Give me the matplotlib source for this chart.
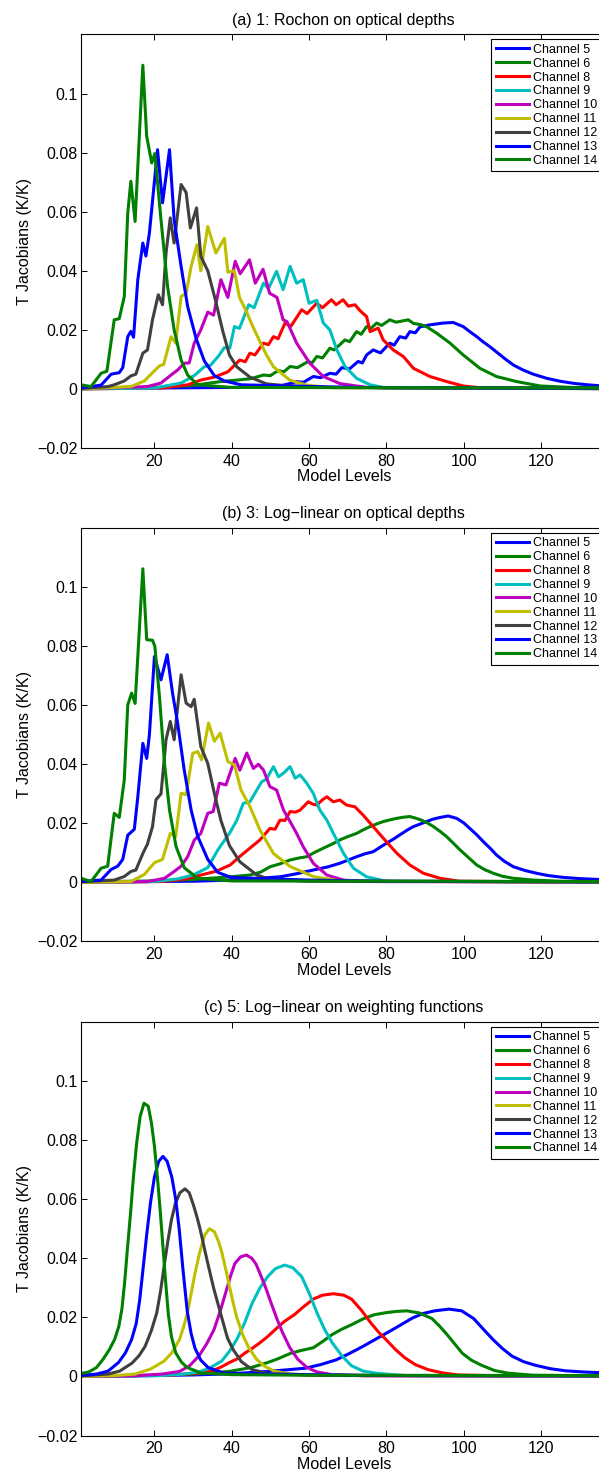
import numpy as np
import matplotlib
matplotlib.use('Agg')
import matplotlib.pyplot as plt

plt.rcParams['font.family'] = ['Liberation Sans', 'DejaVu Sans']

# ── Values: (model level, T Jacobian in K/K) ─────────────────────────────
CHANNELS = [5, 6, 8, 9, 10, 11, 12, 13, 14]
COLORS = ['#0000ff', '#008000', '#ff0000', '#00bfbf', '#bf00bf',
          '#bfbf00', '#404040', '#0000ff', '#008000']
TITLES = ["(a) 1: Rochon on optical depths",
          "(b) 3: Log\u2212linear on optical depths",
          "(c) 5: Log\u2212linear on weighting functions"]

# panel (a)
A_CH5 = [(1, 0.0002), (20, 0.0003), (40, 0.0005), (48, 0.0008), (52.5, 0.001), (55, 0.0018),
         (56.8, 0.0025), (58.5, 0.0022), (61.1, 0.0042), (63, 0.0038), (65.4, 0.0053), (67, 0.0050),
         (68.5, 0.0072), (70.5, 0.0068), (72.7, 0.0093), (73.8, 0.0088), (74.9, 0.0115), (76.6, 0.0132),
         (78.5, 0.0122), (80.9, 0.0155), (82, 0.0148), (83.5, 0.0177), (85, 0.0172), (86.1, 0.0194),
         (87.5, 0.0190), (88.7, 0.021), (91.3, 0.0217), (94.7, 0.0223), (97.3, 0.0225), (99.9, 0.0211),
         (101.5, 0.0195), (103.4, 0.0177), (105, 0.016), (106.8, 0.0143), (109, 0.012), (111.1, 0.0098),
         (113, 0.008), (115.4, 0.0064), (118, 0.005), (121.5, 0.0036), (125, 0.0026), (128.4, 0.0019),
         (132, 0.0014), (137, 0.0009)]
A_CH6 = [(1, 0.0002), (20, 0.0005), (30, 0.0012), (37.2, 0.0025), (41.5, 0.003), (45, 0.0035),
         (48.2, 0.0047), (50, 0.0045), (52, 0.0062), (53.5, 0.0058), (55.1, 0.0076), (57, 0.0072),
         (59.8, 0.0093), (60.8, 0.0088), (62, 0.011), (63.5, 0.0105), (65.4, 0.0138), (66.5, 0.0132),
         (69.3, 0.0166), (70.5, 0.0160), (72.3, 0.0194), (73.5, 0.0185), (74.9, 0.0211), (76, 0.0205),
         (77.5, 0.0223), (78.8, 0.0215), (80.9, 0.0234), (82.5, 0.0226), (85.7, 0.0234), (87, 0.0222),
         (89.1, 0.0217), (90.5, 0.021), (93, 0.0189), (96.5, 0.0155), (99.9, 0.0115), (104.2, 0.007),
         (108.5, 0.0042), (113.7, 0.0025), (119.8, 0.001), (128, 0.0005), (137, 0.0003)]
A_CH8 = [(1, 0.0), (21.7, 0.0003), (28.6, 0.0014), (32, 0.003), (35.5, 0.004), (39, 0.0058),
         (42.1, 0.0098), (43.5, 0.0092), (44.7, 0.0121), (46, 0.0115), (48.2, 0.0155), (49.5, 0.0150),
         (50.8, 0.0177), (52, 0.0170), (53.8, 0.0223), (55.3, 0.0212), (58.1, 0.0268), (59.5, 0.0255),
         (62, 0.029), (63.5, 0.0275), (65.8, 0.0302), (67, 0.0285), (68.8, 0.0302), (70.2, 0.0280),
         (71.9, 0.0285), (73.2, 0.0265), (74.9, 0.0245), (75.8, 0.0194), (77.9, 0.0206), (79.2, 0.0166),
         (81.8, 0.0132), (84.4, 0.011), (87, 0.007), (91.3, 0.0042), (95.6, 0.0025), (99.9, 0.001),
         (105, 0.0003), (137, 0.0001)]
A_CH9 = [(1, 0.0), (20, 0.0003), (26.9, 0.002), (30.3, 0.0045), (32.9, 0.0075), (34.5, 0.008),
         (36.5, 0.011), (38.1, 0.0140), (39.5, 0.0138), (40.7, 0.0211), (42, 0.0205), (44.4, 0.0285),
         (45.8, 0.0275), (48.2, 0.0358), (49.5, 0.034), (51.6, 0.0398), (53.3, 0.0336), (55.1, 0.0415),
         (56.8, 0.0358), (58.5, 0.037), (60, 0.029), (62, 0.030), (63.7, 0.0223), (65.4, 0.02),
         (67.2, 0.0132), (69.3, 0.0076), (72.3, 0.0036), (75.8, 0.0014), (80, 0.0003), (137, 0.0001)]
A_CH10 = [(1, 0.0), (18.2, 0.0008), (21.7, 0.002), (24.3, 0.0047), (26, 0.0064), (27.7, 0.0087),
          (29, 0.0088), (30.3, 0.0155), (32, 0.02), (33.8, 0.026), (35.3, 0.025), (37.2, 0.037),
          (39, 0.031), (40.9, 0.0432), (42.2, 0.039), (44.6, 0.0437), (46.1, 0.0358), (48.1, 0.0405),
          (49.8, 0.0324), (51.7, 0.0310), (53.3, 0.0234), (54.3, 0.0228), (56.8, 0.0155), (60.2, 0.0087),
          (63.7, 0.0042), (68, 0.0018), (75, 0.0005), (137, 0.0001)]
A_CH11 = [(1, 0.0), (13.9, 0.0008), (17.4, 0.0027), (19.5, 0.0055), (21.3, 0.0078), (22.4, 0.0083),
          (24.3, 0.0177), (25.5, 0.0155), (26.9, 0.0313), (28.2, 0.0324), (29.5, 0.0415), (31, 0.0488),
          (32, 0.040), (33.8, 0.055), (35.9, 0.046), (38.1, 0.051), (39, 0.0395), (40.7, 0.040),
          (42, 0.031), (43.7, 0.0265), (45.5, 0.021), (47.3, 0.0160), (49, 0.0115), (50.8, 0.0075),
          (55, 0.003), (59.4, 0.0013), (66, 0.0004), (137, 0.0001)]
A_CH12 = [(1, 0.0002), (8, 0.0008), (9.6, 0.0014), (12.2, 0.0027), (13.9, 0.0044), (15.2, 0.005),
          (17, 0.0121), (18.2, 0.0132), (19.5, 0.0234), (21, 0.0319), (22.1, 0.0285), (23, 0.046),
          (24.1, 0.0579), (25.1, 0.0494), (26.9, 0.0692), (28.2, 0.0665), (29.3, 0.0545), (30.9, 0.0613),
          (32, 0.0449), (33.8, 0.040), (35.8, 0.030), (37.7, 0.0195), (39.4, 0.0115), (41.3, 0.0075),
          (44.7, 0.0040), (49, 0.0017), (55, 0.0010), (65, 0.0005), (137, 0.0002)]
A_CH13 = [(1, 0.0003), (6.2, 0.0013), (8.8, 0.005), (10.9, 0.0055), (11.8, 0.0072), (13.1, 0.0177),
          (13.9, 0.0195), (14.6, 0.0175), (15.7, 0.037), (17, 0.0494), (17.8, 0.045), (18.7, 0.0528),
          (20.8, 0.081), (22.1, 0.063), (23.9, 0.081), (25.1, 0.0573), (26.9, 0.0415), (28.6, 0.0279),
          (30.8, 0.017), (32.9, 0.0095), (35.5, 0.0045), (38.1, 0.0027), (42.4, 0.0014), (55, 0.001),
          (65, 0.0007), (80, 0.0004), (137, 0.0002)]
A_CH14 = [(1, 0.0014), (3.6, 0.0008), (6.2, 0.0053), (7.7, 0.006), (9.6, 0.0234), (10.9, 0.0238),
          (12.2, 0.0313), (13.1, 0.0596), (13.9, 0.0703), (15, 0.0567), (17, 0.1096), (18, 0.0855),
          (19.3, 0.0765), (20.1, 0.0797), (21.7, 0.0573), (23.4, 0.0347), (25.1, 0.02), (26.9, 0.0098),
          (28.6, 0.0047), (31.2, 0.0014), (40, 0.0005), (137, 0.0003)]

# panel (b)
B_CH5 = [(1, 0.0002), (30, 0.0004), (40, 0.0008), (52.5, 0.0019), (57, 0.003), (61.1, 0.0042),
         (65, 0.0053), (68, 0.0065), (70, 0.0075), (72.3, 0.0087), (74.5, 0.0097), (76.6, 0.0104),
         (78.5, 0.012), (80.1, 0.0133), (82, 0.0148), (83.5, 0.0161), (85.5, 0.0178), (87, 0.0189),
         (88.8, 0.0198), (90.4, 0.0206), (92, 0.0214), (93.9, 0.022), (96, 0.0225), (98.2, 0.0217),
         (100, 0.0202), (101.6, 0.0183), (103.5, 0.016), (105.1, 0.0138), (107, 0.0114), (108.5, 0.0093),
         (110.5, 0.0072), (112.9, 0.0053), (116, 0.0040), (118.9, 0.0031), (122, 0.0023), (125.8, 0.0017),
         (130, 0.0013), (135, 0.0010), (137, 0.0009)]
B_CH6 = [(1, 0.0002), (20, 0.0005), (30, 0.001), (39.6, 0.0019), (44.7, 0.0025), (47.5, 0.0035),
         (49.9, 0.0053), (52.5, 0.0063), (55.1, 0.0076), (57.5, 0.0083), (59.4, 0.0087), (61.5, 0.0102),
         (63.7, 0.0116), (66, 0.013), (68, 0.0144), (70, 0.0155), (72.3, 0.0166), (74, 0.0178),
         (75.8, 0.0189), (77.5, 0.0198), (79.2, 0.0206), (81, 0.0212), (82.7, 0.0217), (84.5, 0.0221),
         (86.1, 0.0223), (87.5, 0.0218), (89.1, 0.0211), (90.7, 0.0201), (92.2, 0.0189), (94, 0.0172),
         (95.6, 0.0155), (97.4, 0.0132), (99.1, 0.011), (101.2, 0.0085), (103.4, 0.0059), (105.5, 0.0043),
         (107.7, 0.0031), (110, 0.0021), (112.9, 0.0014), (118, 0.0008), (125, 0.0004), (137, 0.0002)]
B_CH8 = [(1, 0.0), (22, 0.0003), (28, 0.0012), (32, 0.0025), (36, 0.0038), (39.6, 0.0059),
         (42.1, 0.0088), (44.7, 0.0116), (47.3, 0.0144), (49.9, 0.0183), (51.2, 0.0180), (52.5, 0.0211),
         (53.8, 0.021), (55.1, 0.024), (56.5, 0.0238), (57.7, 0.0245), (59.8, 0.0273), (61, 0.0265),
         (62, 0.0262), (63.5, 0.028), (64.6, 0.029), (66.3, 0.0273), (68, 0.0279), (69.7, 0.0262),
         (71.9, 0.0256), (74, 0.0228), (76.6, 0.0189), (79.2, 0.015), (82.7, 0.0099), (86.1, 0.0059),
         (89.6, 0.0031), (93.9, 0.0014), (99, 0.0004), (137, 0.0001)]
B_CH9 = [(1, 0.0), (20, 0.0003), (26, 0.0012), (30, 0.0025), (33.8, 0.005), (36.4, 0.011),
         (38, 0.014), (39.6, 0.017), (41.3, 0.021), (43, 0.0268), (44.7, 0.0273), (46.5, 0.0313),
         (47.7, 0.034), (49, 0.035), (50.8, 0.0392), (52.1, 0.0358), (53.4, 0.037), (55.1, 0.0392),
         (56.4, 0.0353), (57.7, 0.0364), (59.4, 0.0336), (61.1, 0.0302), (62.8, 0.0245), (64.6, 0.0211),
         (66.3, 0.0166), (68.9, 0.0099), (71.5, 0.0048), (74.9, 0.0019), (80, 0.0004), (137, 0.0001)]
B_CH10 = [(1, 0.0), (18.2, 0.0003), (22.6, 0.0014), (25.1, 0.0037), (26.9, 0.0055), (28.6, 0.0087),
          (30.3, 0.0143), (32, 0.0166), (33.8, 0.0234), (35.2, 0.024), (36.8, 0.0336), (38.5, 0.033),
          (40.9, 0.042), (42.1, 0.038), (43.9, 0.0438), (45.6, 0.0386), (46.9, 0.040), (48.2, 0.0381),
          (49.9, 0.0324), (51.6, 0.0313), (53.4, 0.0245), (55.1, 0.0206), (56.8, 0.0166), (58.5, 0.0121),
          (61.1, 0.0065), (64.6, 0.0025), (68.9, 0.0008), (75, 0.0003), (137, 0.0001)]
B_CH11 = [(1, 0.0), (13.9, 0.0003), (17.4, 0.0027), (20, 0.0067), (22.1, 0.0078), (24.1, 0.0166),
          (25.5, 0.0155), (26.9, 0.0302), (28.2, 0.0297), (29.9, 0.0437), (31.2, 0.0443), (32.2, 0.0415),
          (34, 0.054), (35.5, 0.0478), (37, 0.0505), (39, 0.0409), (40.7, 0.0398), (42.4, 0.0313),
          (44.7, 0.0257), (47.3, 0.0178), (50.8, 0.0098), (55.1, 0.0054), (61.1, 0.002), (68, 0.0005),
          (137, 0.0001)]
B_CH12 = [(1, 0.0002), (9.6, 0.0008), (12.2, 0.002), (13.9, 0.0037), (15.2, 0.0042), (17, 0.0098),
          (18.2, 0.013), (19.5, 0.0189), (20.4, 0.028), (21.7, 0.030), (23, 0.0483), (24.1, 0.0545),
          (25.1, 0.0483), (26.9, 0.0703), (28.2, 0.0607), (29.5, 0.0595), (30.3, 0.062), (32, 0.046),
          (33.8, 0.0403), (35.5, 0.0302), (37.2, 0.021), (39.4, 0.0125), (42.1, 0.007), (46.5, 0.0025),
          (50, 0.001), (60, 0.0004), (137, 0.0002)]
B_CH13 = [(1, 0.0003), (6.2, 0.0008), (8.8, 0.0044), (10.5, 0.0055), (11.8, 0.0078), (13.1, 0.016),
          (14.8, 0.018), (15.7, 0.029), (17, 0.0471), (18, 0.042), (18.7, 0.05), (20, 0.0765),
          (21.7, 0.0686), (23.3, 0.0771), (24.7, 0.064), (26, 0.054), (27.7, 0.0381), (29.5, 0.0245),
          (31.2, 0.0156), (33.8, 0.0078), (36.4, 0.0034), (39.8, 0.0017), (50, 0.0012), (60, 0.0008),
          (80, 0.0004), (137, 0.0002)]
B_CH14 = [(1, 0.0014), (3.6, 0.0003), (6.2, 0.0048), (7.9, 0.0055), (9.6, 0.0234), (10.9, 0.022),
          (12.2, 0.0347), (13.1, 0.0601), (14.1, 0.0641), (15, 0.0606), (17, 0.1062), (18, 0.0822),
          (19.5, 0.082), (20.1, 0.08), (21.3, 0.063), (22.6, 0.0403), (23.9, 0.0245), (25.6, 0.0121),
          (27.7, 0.005), (31.2, 0.0014), (40, 0.0005), (137, 0.0003)]

# panel (c)
C_CH5 = [(1, 0.0), (30, 0.0005), (40, 0.0009), (49.3, 0.0017), (54, 0.0022), (59.1, 0.0028),
         (63, 0.004), (67, 0.0056), (70.5, 0.0078), (74, 0.0102), (77.5, 0.0128), (80.9, 0.0153),
         (83.8, 0.0175), (86.8, 0.0198), (89.5, 0.0213), (92.5, 0.0222), (96.2, 0.0228), (99.5, 0.0222),
         (102.6, 0.0196), (105.1, 0.016), (107.6, 0.0125), (110, 0.0095), (112.5, 0.0069), (115.5, 0.005),
         (118.5, 0.0038), (122.5, 0.0026), (126.4, 0.0019), (131, 0.0015), (137, 0.0012)]
C_CH6 = [(1, 0.0), (20, 0.0004), (30, 0.0008), (39.4, 0.0017), (45, 0.003), (49.3, 0.0047),
         (52, 0.006), (55.2, 0.0078), (58, 0.0088), (61.1, 0.0097), (63.5, 0.0118), (66, 0.0142),
         (68.5, 0.016), (71, 0.0175), (74, 0.0195), (76.9, 0.0209), (80, 0.0216), (82.5, 0.022),
         (85.3, 0.0222), (88.5, 0.0215), (91.8, 0.0196), (93.8, 0.017), (95.7, 0.0142), (97.7, 0.011),
         (99.7, 0.0078), (102, 0.0055), (104.6, 0.0038), (108, 0.0020), (111.5, 0.0011), (118, 0.0004),
         (137, 0.0002)]
C_CH8 = [(1, 0.0), (25, 0.0005), (30, 0.001), (34.4, 0.0017), (37, 0.003), (39.4, 0.0047),
         (41.5, 0.006), (43.3, 0.0078), (45.3, 0.0095), (47.3, 0.0114), (49.3, 0.0135), (51.2, 0.0158),
         (53.5, 0.0185), (56.2, 0.0209), (58.5, 0.0235), (61.1, 0.0262), (63.5, 0.0275), (66.3, 0.028),
         (69, 0.0275), (71, 0.0262), (73.5, 0.0225), (76, 0.0181), (78, 0.015), (79.9, 0.0125),
         (82.3, 0.0092), (84.8, 0.0063), (87.5, 0.004), (90.8, 0.0023), (94.5, 0.0012), (98.7, 0.0005),
         (110, 0.0002), (137, 0.0001)]
C_CH9 = [(1, 0.0), (20, 0.0002), (27, 0.0007), (31.5, 0.0015), (34.5, 0.003), (37.4, 0.0052),
         (39.4, 0.0085), (41.3, 0.0125), (43.3, 0.018), (45.3, 0.0248), (47.3, 0.030), (49.3, 0.0338),
         (51.3, 0.0365), (53.7, 0.0377), (55.8, 0.0368), (58.1, 0.0338), (60.1, 0.028), (62.1, 0.0214),
         (64, 0.016), (66, 0.0114), (68.5, 0.007), (71, 0.0036), (74, 0.0018), (77.9, 0.001),
         (85, 0.0003), (137, 0.0001)]
C_CH10 = [(1, 0.0), (15, 0.0002), (22, 0.0008), (26.5, 0.0017), (29, 0.0035), (31.5, 0.0069),
          (33.5, 0.011), (35.4, 0.0158), (37, 0.022), (38.4, 0.0282), (39.7, 0.034), (40.8, 0.0382),
          (42.3, 0.0405), (43.8, 0.0411), (45.2, 0.040), (46.3, 0.038), (47.3, 0.0349), (48.8, 0.030),
          (50.2, 0.0248), (51.7, 0.0195), (53.2, 0.0147), (55, 0.0098), (57.1, 0.0058), (59.5, 0.003),
          (62.1, 0.0015), (66, 0.0006), (75, 0.0002), (137, 0.0001)]
C_CH11 = [(1, 0.0), (10, 0.0003), (15, 0.0008), (19, 0.0025), (22.5, 0.0052), (24.5, 0.008),
          (26.5, 0.0125), (27.6, 0.017), (28.5, 0.0214), (29.5, 0.028), (30.5, 0.0349), (31.7, 0.042),
          (33, 0.0478), (34.2, 0.050), (35.5, 0.049), (36.5, 0.046), (37.4, 0.0422), (38.5, 0.036),
          (39.4, 0.0305), (40.4, 0.0248), (41.3, 0.020), (42.8, 0.0142), (44.3, 0.0100), (46.3, 0.006),
          (48.3, 0.0036), (51, 0.0018), (54.2, 0.001), (60, 0.0004), (137, 0.0001)]
C_CH12 = [(1, 0.0002), (8, 0.0008), (11, 0.0018), (14.2, 0.0045), (16, 0.007), (17.6, 0.0102),
          (19.2, 0.0155), (20.6, 0.0215), (21.6, 0.029), (22.6, 0.0382), (23.5, 0.046), (24.4, 0.053),
          (25.4, 0.0585), (26.6, 0.0622), (27.9, 0.0635), (29, 0.0622), (30.1, 0.058), (31, 0.054),
          (31.8, 0.050), (33.5, 0.040), (35.3, 0.030), (37.4, 0.020), (38.9, 0.013), (40.4, 0.009),
          (42.5, 0.005), (45.3, 0.0023), (50, 0.0008), (70, 0.0003), (137, 0.0002)]
C_CH13 = [(1, 0.0003), (5, 0.0008), (8, 0.0018), (10.7, 0.0047), (12.5, 0.008), (14.1, 0.0125),
          (15.3, 0.018), (16.2, 0.026), (17.1, 0.037), (18, 0.048), (19, 0.059), (20, 0.0675),
          (21.1, 0.0728), (22.2, 0.0745), (23.3, 0.0728), (24.5, 0.0675), (25.5, 0.060), (26.4, 0.050),
          (27.4, 0.036), (28.5, 0.022), (29.5, 0.0145), (30.5, 0.0095), (32, 0.0055), (33.9, 0.003),
          (38, 0.0011), (50, 0.0008), (60, 0.0006), (80, 0.0003), (137, 0.0002)]
C_CH14 = [(1, 0.001), (3, 0.0015), (5, 0.003), (6.7, 0.0058), (8.3, 0.009), (9.7, 0.0125),
          (10.8, 0.017), (11.6, 0.023), (12.3, 0.032), (13, 0.043), (13.8, 0.055), (14.6, 0.068),
          (15.4, 0.079), (16.3, 0.088), (17.3, 0.0925), (18.4, 0.0915), (19.2, 0.086), (20, 0.078),
          (20.8, 0.067), (21.5, 0.056), (22.2, 0.044), (22.9, 0.032), (23.6, 0.021), (24.4, 0.0135),
          (25.5, 0.008), (27, 0.0048), (28.5, 0.003), (32, 0.0012), (40, 0.0006), (60, 0.0004),
          (137, 0.0003)]

PANELS = [
    [A_CH5, A_CH6, A_CH8, A_CH9, A_CH10, A_CH11, A_CH12, A_CH13, A_CH14],
    [B_CH5, B_CH6, B_CH8, B_CH9, B_CH10, B_CH11, B_CH12, B_CH13, B_CH14],
    [C_CH5, C_CH6, C_CH8, C_CH9, C_CH10, C_CH11, C_CH12, C_CH13, C_CH14],
]

# ── Figure ────────────────────────────────────────────────────────────────
fig = plt.figure(figsize=(5.99, 14.74), dpi=100)
H = 1474.0
bottoms_px = [448.0, 941.5, 1435.5]
ax_h = 413.5 / H
ax_l = 81.0 / 599
ax_w = (606.6 - 81.0) / 599

for p, series in enumerate(PANELS):
    ax = fig.add_axes([ax_l, 1 - bottoms_px[p] / H, ax_w, ax_h])
    for ch, col, pts in zip(CHANNELS, COLORS, series):
        arr = np.array(pts)
        ax.plot(arr[:, 0], arr[:, 1], color=col, lw=2.2,
                solid_joinstyle='round', label=f"Channel {ch}")

    ax.set_xlim(1, 137)
    ax.set_ylim(-0.02, 0.12)
    ax.set_xticks([20, 40, 60, 80, 100, 120])
    ax.set_yticks([-0.02, 0, 0.02, 0.04, 0.06, 0.08, 0.1])
    ax.set_yticklabels(["\u22120.02", "0", "0.02", "0.04", "0.06", "0.08", "0.1"])
    ax.tick_params(direction='in', length=4, width=0.7, top=True, right=True,
                   labelsize=11.5)
    ax.tick_params(axis='x', pad=4)
    ax.tick_params(axis='y', pad=2.5)
    for s in ax.spines.values():
        s.set_linewidth(0.8)

    ax.set_title(TITLES[p], fontsize=11.5, pad=7)
    ax.set_xlabel("Model Levels", fontsize=11.5, labelpad=0.5)
    ax.set_ylabel("T Jacobians (K/K)", fontsize=11.5, labelpad=4)

    leg = ax.legend(loc='upper right', fontsize=9, labelspacing=0.15,
                    handlelength=2.65, handletextpad=0.32, borderpad=0.35,
                    borderaxespad=0.4, fancybox=False, framealpha=1,
                    edgecolor='black')
    leg.get_frame().set_linewidth(0.8)

fig.savefig("out.png", dpi=100)
